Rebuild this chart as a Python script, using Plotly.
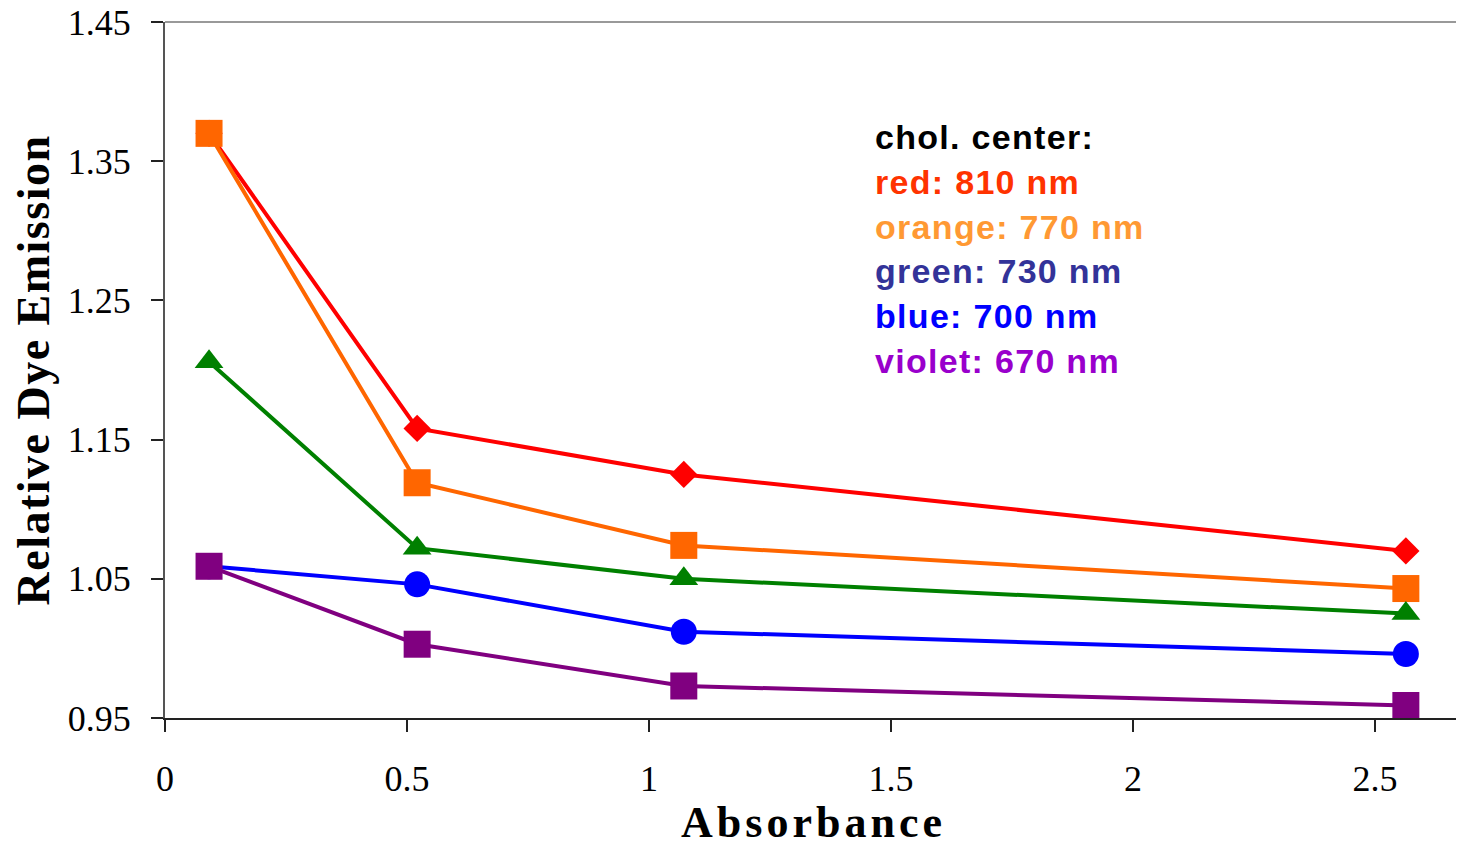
import plotly.graph_objects as go

absorbance = [0.091, 0.521, 1.072, 2.564]

red_810 = [1.370, 1.158, 1.125, 1.070]
orange_770 = [1.370, 1.119, 1.074, 1.043]
green_730 = [1.206, 1.072, 1.050, 1.025]
blue_700 = [1.059, 1.046, 1.012, 0.996]
violet_670 = [1.059, 1.003, 0.973, 0.959]

x_tickvals = [0, 0.5, 1, 1.5, 2, 2.5]
x_ticktext = ["0", "0.5", "1", "1.5", "2", "2.5"]
y_tickvals = [0.95, 1.05, 1.15, 1.25, 1.35, 1.45]
y_ticktext = ["0.95", "1.05", "1.15", "1.25", "1.35", "1.45"]

legend_lines = ["chol. center:", "red: 810 nm", "orange: 770 nm",
                "green: 730 nm", "blue: 700 nm", "violet: 670 nm"]
legend_colors = ["#000000", "#FF3300", "#FF9933", "#333399", "#0000FF", "#9900CC"]

series = [
    ("red", red_810, "#FF0000", "diamond", 21),
    ("orange", orange_770, "#FF6600", "square", 27),
    ("green", green_730, "#008000", "triangle-up", 25),
    ("blue", blue_700, "#0000FF", "circle", 26),
    ("violet", violet_670, "#800080", "square", 27),
]

fig = go.Figure()
for name, ys, col, sym, sz in series:
    fig.add_trace(go.Scatter(
        x=absorbance, y=ys, mode="lines+markers", name=name,
        line=dict(color=col, width=4),
        marker=dict(symbol=sym, size=sz, color=col, line=dict(width=0)),
        showlegend=False,
    ))

OFF = 8  # page body margin
W, H = 1464 - OFF, 847 - OFF
ml, mr, mt, mb = 165 - OFF, 2, 22 - OFF, 129
plot_w = W - ml - mr
plot_h = H - mt - mb

for i, (txt, col) in enumerate(zip(legend_lines, legend_colors)):
    yc = 137 + i * 44.8
    fig.add_annotation(
        xref="paper", yref="paper", x=(873 - 165) / plot_w,
        y=(718 - yc) / plot_h, xanchor="left", yanchor="middle",
        text=f"<span style='letter-spacing:1.3px'><b>{txt}</b></span>", showarrow=False,
        font=dict(family="Liberation Sans, Arial, sans-serif", size=34, color=col),
    )

# top frame line
fig.add_shape(type="line", xref="paper", yref="paper", x0=0, x1=1, y0=1, y1=1,
              line=dict(color="#999999", width=2))

serif = "Liberation Serif, Times New Roman, serif"
fig.update_layout(
    width=W, height=H,
    margin=dict(l=ml, r=mr, t=mt, b=mb, autoexpand=False),
    plot_bgcolor="white", paper_bgcolor="white",
    xaxis=dict(
        range=[0, 2.68], tickvals=x_tickvals, ticktext=x_ticktext,
        showgrid=False, zeroline=False, showline=True, linecolor="#222222", linewidth=2,
        ticks="outside", ticklen=12, tickwidth=2, tickcolor="#222222",
        tickfont=dict(family=serif, size=36, color="black"),
        ticklabelstandoff=16, ticklabeloverflow="allow", automargin=False,
        title=dict(text="<span style='letter-spacing:4px'><b>Absorbance</b></span>",
                   font=dict(family=serif, size=44, color="black"),
                   standoff=8),
    ),
    yaxis=dict(
        range=[0.95, 1.45], tickvals=y_tickvals, ticktext=y_ticktext,
        showgrid=False, zeroline=False, showline=True, linecolor="#555555", linewidth=2,
        ticks="outside", ticklen=12, tickwidth=2, tickcolor="#222222",
        tickfont=dict(family=serif, size=36, color="black"),
        ticklabelstandoff=13, ticklabeloverflow="allow", automargin=False,
        title=dict(text="<span style='letter-spacing:1.5px'><b>Relative Dye Emission</b></span>",
                   font=dict(family=serif, size=46, color="black"),
                   standoff=4),
    ),
)

fig.write_html("out.html")
